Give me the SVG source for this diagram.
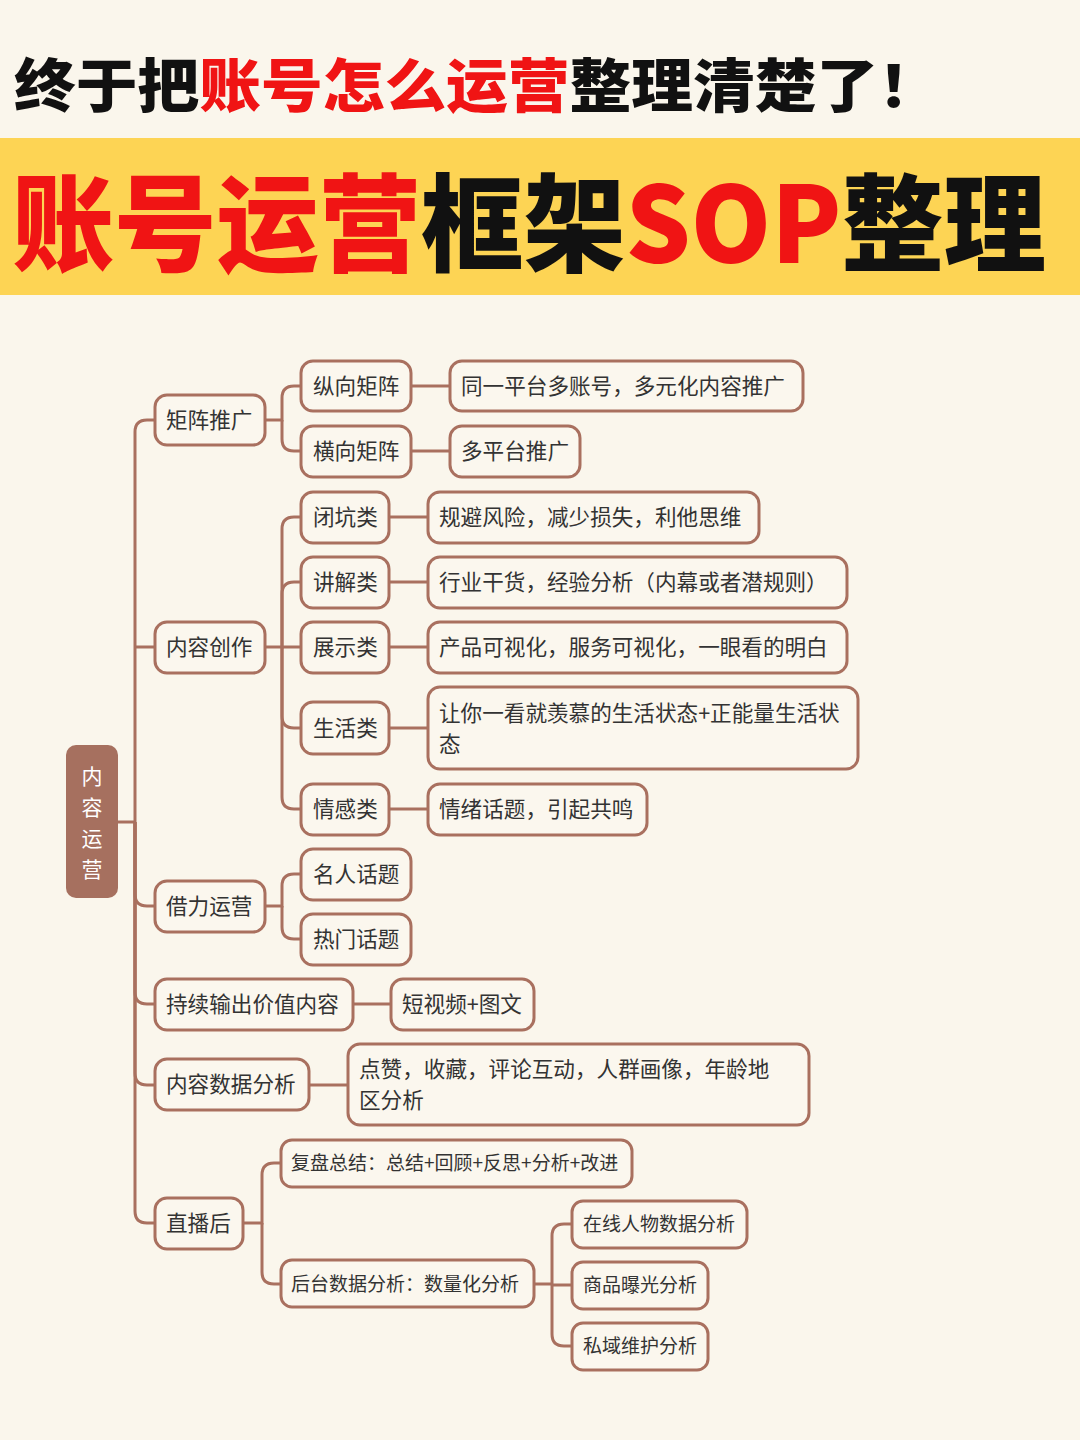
<svg xmlns="http://www.w3.org/2000/svg" width="1080" height="1440" viewBox="0 0 1080 1440">
<style>
.n rect{fill:#fbf7ee;stroke:#a9705f;stroke-width:3}
.n text{font-family:"Noto Sans CJK SC","Noto Sans",sans-serif;font-size:21.6px;fill:#333}
.s text{font-size:19px}
#conn path{fill:none;stroke:#a9705f;stroke-width:3}
.t{font-family:"Noto Sans CJK SC",sans-serif;font-weight:900}
</style>
<rect width="1080" height="1440" fill="#faf6ec"/>
<text class="t" x="14" y="107" font-size="58" fill="#111" textLength="926" lengthAdjust="spacingAndGlyphs">终于把<tspan fill="#f01414">账号怎么运营</tspan>整理清楚了！</text>
<rect x="0" y="138" width="1080" height="157" fill="#fdd454"/>
<text class="t" x="12" y="263" font-size="106" fill="#111" textLength="1034" lengthAdjust="spacingAndGlyphs"><tspan fill="#f01414">账号运营</tspan>框架<tspan fill="#f01414">SOP</tspan>整理</text>
<g id="conn">
<path d="M118,822 H135"/>
<path d="M135,822 V432 Q135,420 147,420 H155"/>
<path d="M135,647 H155"/>
<path d="M135,822 V894 Q135,906 147,906 H155"/>
<path d="M135,822 V992 Q135,1004 147,1004 H155"/>
<path d="M135,822 V1073 Q135,1085 147,1085 H155"/>
<path d="M135,822 V1211 Q135,1223 147,1223 H155"/>
<path d="M265,420 H282 V398 Q282,386 294,386 H301"/>
<path d="M282,420 V439 Q282,451 294,451 H301"/>
<path d="M411,386 H450"/><path d="M411,451 H450"/>
<path d="M265,647 H282 V529 Q282,517 294,517 H301"/>
<path d="M282,647 V594 Q282,582 294,582 H301"/>
<path d="M282,647 H301"/>
<path d="M282,647 V716 Q282,728 294,728 H301"/>
<path d="M282,647 V797 Q282,809 294,809 H301"/>
<path d="M389,517 H428"/><path d="M389,582 H428"/><path d="M389,647 H428"/><path d="M389,728 H428"/><path d="M389,809 H428"/>
<path d="M265,906 H282 V886 Q282,874 294,874 H301"/>
<path d="M282,906 V927 Q282,939 294,939 H301"/>
<path d="M353,1004 H391"/>
<path d="M309,1085 H348"/>
<path d="M243,1223 H262 V1175 Q262,1163 274,1163 H281"/>
<path d="M262,1223 V1272 Q262,1284 274,1284 H281"/>
<path d="M534,1284 H552 V1236 Q552,1224 564,1224 H572"/>
<path d="M552,1285 H572"/>
<path d="M552,1284 V1334 Q552,1346 564,1346 H572"/>
</g>
<g id="root"><rect x="66" y="745" width="52" height="153" rx="10" fill="#a6705f"/>
<g font-family="Noto Sans CJK SC,sans-serif" font-size="21" fill="#fff" text-anchor="middle"><text x="92" y="784">内</text><text x="92" y="815">容</text><text x="92" y="846">运</text><text x="92" y="877">营</text></g></g>
<g id="n1" class="n"><rect x="155" y="395" width="110" height="50" rx="12"/><text x="166" y="428">矩阵推广</text></g>
<g id="n2" class="n"><rect x="155" y="622" width="110" height="51" rx="12"/><text x="166" y="655">内容创作</text></g>
<g id="n3" class="n"><rect x="155" y="881" width="110" height="51" rx="12"/><text x="166" y="914">借力运营</text></g>
<g id="n4" class="n"><rect x="155" y="979" width="198" height="51" rx="12"/><text x="166" y="1012">持续输出价值内容</text></g>
<g id="n5" class="n"><rect x="155" y="1059" width="154" height="51" rx="12"/><text x="166" y="1092">内容数据分析</text></g>
<g id="n6" class="n"><rect x="155" y="1198" width="88" height="51" rx="12"/><text x="166" y="1231">直播后</text></g>
<g id="n11" class="n"><rect x="301" y="361" width="110" height="50" rx="12"/><text x="313" y="394">纵向矩阵</text></g>
<g id="n12" class="n"><rect x="301" y="426" width="110" height="51" rx="12"/><text x="313" y="459">横向矩阵</text></g>
<g id="n111" class="n"><rect x="450" y="361" width="353" height="50" rx="12"/><text x="461" y="394">同一平台多账号，多元化内容推广</text></g>
<g id="n121" class="n"><rect x="450" y="426" width="130" height="51" rx="12"/><text x="461" y="459">多平台推广</text></g>
<g id="n21" class="n"><rect x="301" y="492" width="88" height="51" rx="12"/><text x="313" y="525">闭坑类</text></g>
<g id="n22" class="n"><rect x="301" y="557" width="88" height="51" rx="12"/><text x="313" y="590">讲解类</text></g>
<g id="n23" class="n"><rect x="301" y="622" width="88" height="51" rx="12"/><text x="313" y="655">展示类</text></g>
<g id="n24" class="n"><rect x="301" y="702" width="88" height="52" rx="12"/><text x="313" y="736">生活类</text></g>
<g id="n25" class="n"><rect x="301" y="784" width="88" height="51" rx="12"/><text x="313" y="817">情感类</text></g>
<g id="n211" class="n"><rect x="428" y="492" width="331" height="51" rx="12"/><text x="439" y="525">规避风险，减少损失，利他思维</text></g>
<g id="n221" class="n"><rect x="428" y="557" width="419" height="51" rx="12"/><text x="439" y="590">行业干货，经验分析（内幕或者潜规则）</text></g>
<g id="n231" class="n"><rect x="428" y="622" width="419" height="51" rx="12"/><text x="439" y="655">产品可视化，服务可视化，一眼看的明白</text></g>
<g id="n241" class="n"><rect x="428" y="687" width="430" height="82" rx="12"/><text x="439" y="721">让你一看就羡慕的生活状态+正能量生活状</text><text x="439" y="752">态</text></g>
<g id="n251" class="n"><rect x="428" y="784" width="219" height="51" rx="12"/><text x="439" y="817">情绪话题，引起共鸣</text></g>
<g id="n31" class="n"><rect x="301" y="849" width="110" height="51" rx="12"/><text x="313" y="882">名人话题</text></g>
<g id="n32" class="n"><rect x="301" y="914" width="110" height="51" rx="12"/><text x="313" y="947">热门话题</text></g>
<g id="n41" class="n"><rect x="391" y="979" width="143" height="51" rx="12"/><text x="402" y="1012">短视频+图文</text></g>
<g id="n51" class="n"><rect x="348" y="1044" width="461" height="81" rx="12"/><text x="359" y="1077">点赞，收藏，评论互动，人群画像，年龄地</text><text x="359" y="1108">区分析</text></g>
<g id="n61" class="n s"><rect x="281" y="1140" width="351" height="47" rx="11"/><text x="291" y="1170">复盘总结：总结+回顾+反思+分析+改进</text></g>
<g id="n62" class="n s"><rect x="281" y="1260" width="253" height="47" rx="11"/><text x="291" y="1291">后台数据分析：数量化分析</text></g>
<g id="n621" class="n s"><rect x="572" y="1201" width="175" height="47" rx="11"/><text x="583" y="1231">在线人物数据分析</text></g>
<g id="n622" class="n s"><rect x="572" y="1262" width="136" height="47" rx="11"/><text x="583" y="1292">商品曝光分析</text></g>
<g id="n623" class="n s"><rect x="572" y="1323" width="136" height="47" rx="11"/><text x="583" y="1353">私域维护分析</text></g>
</svg>
